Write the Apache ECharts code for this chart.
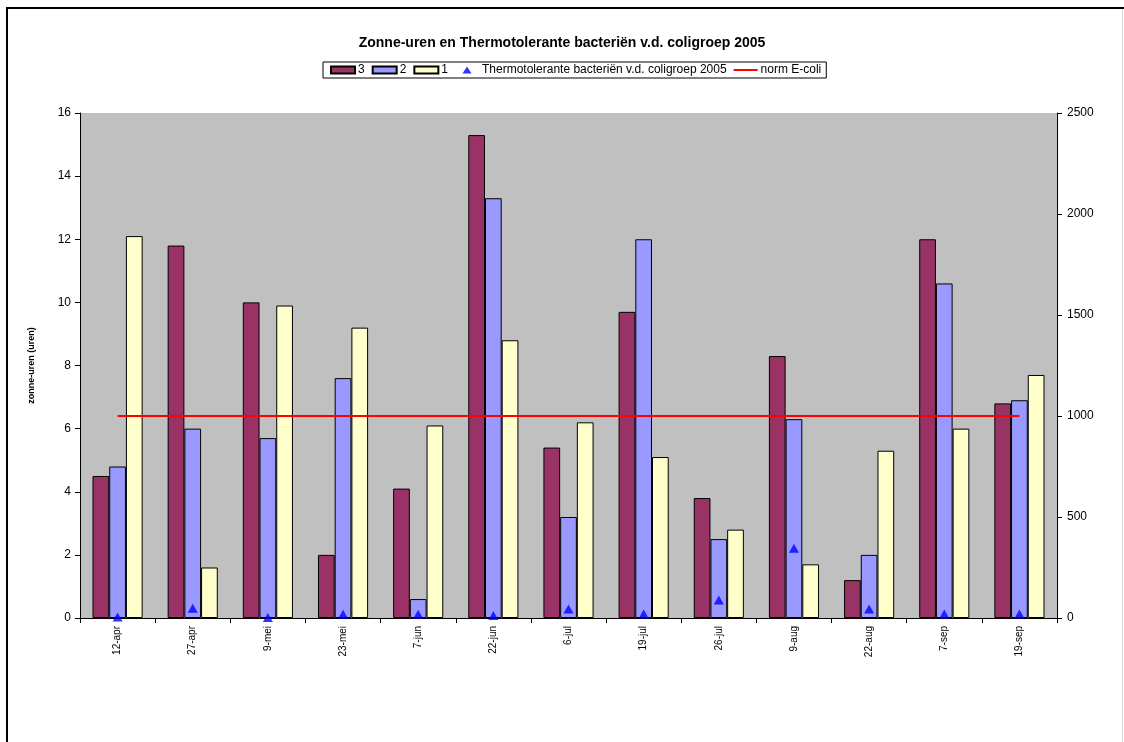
<!DOCTYPE html>
<html>
<head>
<meta charset="utf-8">
<script src="https://cdn.jsdelivr.net/npm/echarts@6/dist/echarts.min.js"></script>
<style>
html,body{margin:0;padding:0;background:#fff;}
#chart{width:1124px;height:742px;}
</style>
</head>
<body>
<div id="chart"></div>
<script>
const categories = ['12-apr','27-apr','9-mei','23-mei','7-jun','22-jun','6-jul','19-jul','26-jul','9-aug','22-aug','7-sep','19-sep'];
const series3 = [4.5, 11.8, 10.0, 2.0, 4.1, 15.3, 5.4, 9.7, 3.8, 8.3, 1.2, 12.0, 6.8];
const series2 = [4.8, 6.0, 5.7, 7.6, 0.6, 13.3, 3.2, 12.0, 2.5, 6.3, 2.0, 10.6, 6.9];
const series1 = [12.1, 1.6, 9.9, 9.2, 6.1, 8.8, 6.2, 5.1, 2.8, 1.7, 5.3, 6.0, 7.7];
const bacteria = [5, 48, 3, 18, 18, 12, 44, 20, 89, 345, 44, 20, 20];
const normEcoli = [1000, 1000, 1000, 1000, 1000, 1000, 1000, 1000, 1000, 1000, 1000, 1000, 1000];
const titleText = 'Zonne-uren en Thermotolerante bacteriën v.d. coligroep 2005';
const bacteriaName = 'Thermotolerante bacteriën v.d. coligroep 2005';

const FONT = '"Liberation Sans", Arial, sans-serif';
const chart = echarts.init(document.getElementById('chart'), null, {renderer: 'canvas'});
const barStyle = (c) => ({color: c, borderColor: '#000', borderWidth: 1});

chart.setOption({
  backgroundColor: '#fff',
  animation: false,
  textStyle: {fontFamily: FONT},
  title: {
    text: titleText,
    left: 'center',
    top: 31,
    textStyle: {fontFamily: FONT, fontSize: 14, fontWeight: 'bold', color: '#000'}
  },
  legend: {
    top: 62,
    left: 323,
    padding: [2, 5, 2, 7],
    borderColor: '#000',
    borderWidth: 1,
    borderRadius: 0,
    itemWidth: 24,
    itemHeight: 7,
    itemGap: 7,
    symbolKeepAspect: true,
    textStyle: {fontFamily: FONT, fontSize: 12, color: '#000', padding: [0, 0, 0, -2]},
    data: [
      {name: '3', icon: 'rect'},
      {name: '2', icon: 'rect'},
      {name: '1', icon: 'rect'},
      {name: bacteriaName, icon: 'path://M0,7 L0,7 M12,0 L16.5,7 L7.5,7 Z M24,0 L24,0'},
      {name: 'norm E-coli', icon: 'path://M0,0 L24,0 L24,2 L0,2 Z'}
    ]
  },
  grid: {
    left: 80, right: 67, top: 113, bottom: 124,
    show: true, backgroundColor: '#C0C0C0', borderWidth: 0
  },
  xAxis: {
    type: 'category',
    data: categories,
    axisLine: {lineStyle: {color: '#000', width: 1}},
    axisTick: {show: true, length: 5, alignWithLabel: false, lineStyle: {color: '#000'}},
    axisLabel: {rotate: 90, fontSize: 10, color: '#000', fontFamily: FONT, margin: 8}
  },
  yAxis: [
    {
      type: 'value', min: 0, max: 16, interval: 2,
      name: 'zonne-uren (uren)',
      nameLocation: 'middle',
      nameGap: 44,
      nameRotate: 90,
      nameTextStyle: {fontFamily: FONT, fontSize: 9, fontWeight: 'bold', color: '#000'},
      axisLine: {show: true, lineStyle: {color: '#000', width: 1}},
      axisTick: {show: true, length: 5, lineStyle: {color: '#000'}},
      axisLabel: {fontSize: 12, color: '#000', fontFamily: FONT, margin: 9},
      splitLine: {show: false}
    },
    {
      type: 'value', min: 0, max: 2500, interval: 500,
      position: 'right',
      axisLine: {show: true, lineStyle: {color: '#000', width: 1}},
      axisTick: {show: true, length: 5, lineStyle: {color: '#000'}},
      axisLabel: {fontSize: 12, color: '#000', fontFamily: FONT, margin: 10, formatter: (v) => String(v)},
      splitLine: {show: false}
    }
  ],
  series: [
    {name: '3', type: 'bar', data: series3, itemStyle: barStyle('#993366'), barGap: '0%', barCategoryGap: '33.3%'},
    {name: '2', type: 'bar', data: series2, itemStyle: barStyle('#9999FF'), barGap: '0%', barCategoryGap: '33.3%'},
    {name: '1', type: 'bar', data: series1, itemStyle: barStyle('#FFFFCC'), barGap: '0%', barCategoryGap: '33.3%'},
    {name: 'norm E-coli', type: 'line', yAxisIndex: 1, data: normEcoli, showSymbol: false, symbol: 'none',
      lineStyle: {color: '#FF0000', width: 2}, itemStyle: {color: '#FF0000'}, z: 5},
    {name: bacteriaName, type: 'scatter', yAxisIndex: 1, data: bacteria, symbol: 'triangle', symbolSize: [10, 9],
      itemStyle: {color: '#0000FF'}, z: 6}
  ],
  graphic: [
    {type: 'line', shape: {x1: 7, y1: 8, x2: 1124, y2: 8}, style: {stroke: '#000', lineWidth: 2}},
    {type: 'line', shape: {x1: 7, y1: 7, x2: 7, y2: 742}, style: {stroke: '#000', lineWidth: 2}},
    {type: 'line', shape: {x1: 1122.5, y1: 9, x2: 1122.5, y2: 742}, style: {stroke: '#d8d8d8', lineWidth: 1}}
  ]
});
</script>
</body>
</html>
